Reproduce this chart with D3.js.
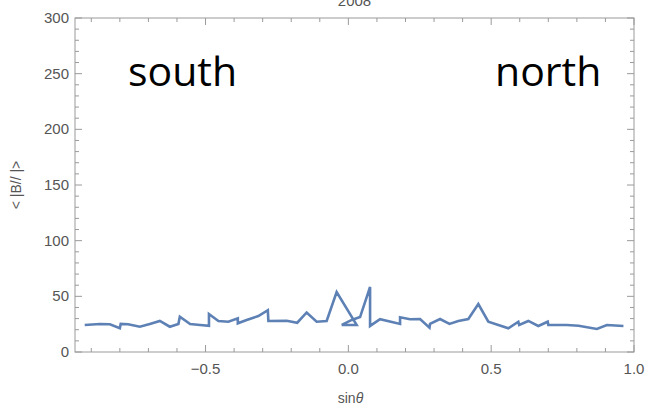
<!DOCTYPE html>
<html>
<head>
<meta charset="utf-8">
<script src="https://cdn.jsdelivr.net/npm/d3@7"></script>
<style>
  body { margin: 0; background: #fff; }
  svg { display: block; }
</style>
</head>
<body>
<div id="chart"></div>
<script>
// data (unsorted, in drawing order)
const sinTheta = [-0.923, -0.870, -0.835, -0.800, -0.797, -0.771, -0.730, -0.695, -0.660, -0.625,
  -0.595, -0.590, -0.554, -0.519, -0.488, -0.488, -0.455, -0.420, -0.387, -0.387,
  -0.356, -0.315, -0.282, -0.280, -0.216, -0.179, -0.146, -0.111, -0.076, -0.041,
  0.029, -0.023, 0.012, 0.041, 0.076, 0.076, 0.111, 0.181, 0.181, 0.216,
  0.251, 0.284, 0.286, 0.321, 0.354, 0.385, 0.420, 0.455, 0.490, 0.560,
  0.595, 0.598, 0.630, 0.665, 0.698, 0.700, 0.765, 0.806, 0.870, 0.905, 0.963];
const bMean = [24.3, 25.2, 24.9, 21.3, 25.2, 24.9, 22.7, 25.2, 27.9, 22.7,
  25.2, 31.7, 25.2, 24.3, 23.6, 34.1, 27.9, 27.2, 30.3, 25.8,
  28.8, 32.3, 37.5, 27.9, 28.1, 26.3, 35.5, 27.2, 27.9, 53.9,
  24.3, 24.3, 28.8, 31.4, 58.4, 23.4, 29.4, 25.2, 31.2, 29.4,
  29.6, 21.8, 25.2, 29.6, 25.2, 27.9, 29.6, 43.1, 27.2, 21.3,
  27.2, 24.3, 27.9, 23.4, 27.2, 24.3, 24.3, 23.6, 20.7, 24.3, 23.4];
const xTicks = [-0.5, 0, 0.5, 1.0];
const yTicks = [0, 50, 100, 150, 200, 250, 300];

const width = 654, height = 419;
const pLeft = 75, pRight = 634, pTop = 18, pBottom = 352;

const svg = d3.select("#chart").append("svg")
  .attr("width", width).attr("height", height)
  .style("font-family", "'Liberation Sans', Arial, sans-serif");

const x = d3.scaleLinear().domain([-0.957, 1.0]).range([pLeft, pRight]);
const y = d3.scaleLinear().domain([0, 300]).range([pBottom, pTop]);

const frameColor = "#9a9a9a";
const labelColor = "#555";

// minor / major ticks on all four sides
const xMinor = d3.range(-9, 11).map(v => v / 10);
const yMinor = d3.range(0, 301, 10);

function tickSet(g, values, isMajor, horizontal) {
  values.forEach(v => {
    const len = isMajor(v) ? 7 : 4;
    if (horizontal) {
      const px = x(v);
      g.append("line").attr("x1", px).attr("x2", px).attr("y1", pBottom).attr("y2", pBottom - len);
      g.append("line").attr("x1", px).attr("x2", px).attr("y1", pTop).attr("y2", pTop + len);
    } else {
      const py = y(v);
      g.append("line").attr("y1", py).attr("y2", py).attr("x1", pLeft).attr("x2", pLeft + len);
      g.append("line").attr("y1", py).attr("y2", py).attr("x1", pRight).attr("x2", pRight - len);
    }
  });
}

const ticks = svg.append("g").attr("stroke", frameColor).attr("stroke-width", 1);
tickSet(ticks, xMinor, v => Math.abs(v * 2 - Math.round(v * 2)) < 1e-6, true);
tickSet(ticks, yMinor, v => v % 50 === 0, false);

svg.append("rect")
  .attr("x", pLeft).attr("y", pTop)
  .attr("width", pRight - pLeft).attr("height", pBottom - pTop)
  .attr("fill", "none").attr("stroke", frameColor).attr("stroke-width", 1);

// tick labels
svg.append("g").selectAll("text").data(xTicks).join("text")
  .attr("x", d => x(d)).attr("y", pBottom + 22)
  .attr("text-anchor", "middle")
  .attr("font-size", 15).attr("fill", labelColor)
  .text(d => d3.format(".1f")(d).replace("-", "\u2212"));

svg.append("g").selectAll("text").data(yTicks).join("text")
  .attr("x", pLeft - 6).attr("y", d => y(d) + 5)
  .attr("text-anchor", "end")
  .attr("font-size", 15).attr("fill", labelColor)
  .text(d => d);

// axis titles
const xt = svg.append("text")
  .attr("x", (pLeft + pRight) / 2 - 4).attr("y", 403)
  .attr("text-anchor", "middle").attr("font-size", 14).attr("fill", labelColor);
xt.append("tspan").text("sin");
xt.append("tspan").attr("font-style", "italic").text("\u03B8");

svg.append("text")
  .attr("transform", `translate(21,${(pTop + pBottom) / 2}) rotate(-90)`)
  .attr("text-anchor", "middle").attr("font-size", 14).attr("fill", labelColor)
  .style("white-space", "pre")
  .text("< |B// |>");

// title (mostly above the visible area, as in the source image)
svg.append("text")
  .attr("x", (pLeft + pRight) / 2).attr("y", 6)
  .attr("text-anchor", "middle").attr("font-size", 15).attr("fill", labelColor)
  .text("2008");

// the line
const pts = sinTheta.map((s, i) => [s, bMean[i]]);
svg.append("path")
  .datum(pts)
  .attr("fill", "none")
  .attr("stroke", "#5E81B5")
  .attr("stroke-width", 2.6)
  .attr("stroke-linejoin", "miter")
  .attr("d", d3.line().x(d => x(d[0])).y(d => y(d[1])));

// annotations
svg.append("text").attr("x", 128).attr("y", 86)
  .attr("font-family", "'Open Sans', 'Noto Sans', sans-serif")
  .attr("font-size", 41).attr("fill", "#000").text("south");
svg.append("text").attr("x", 495).attr("y", 86)
  .attr("font-family", "'Open Sans', 'Noto Sans', sans-serif")
  .attr("font-size", 41).attr("fill", "#000").text("north");
</script>
</body>
</html>
